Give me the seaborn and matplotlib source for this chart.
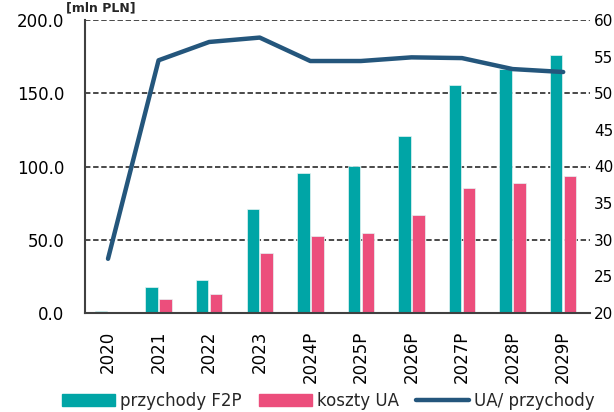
import numpy as np
import pandas as pd
import matplotlib
matplotlib.use('Agg')
import matplotlib.pyplot as plt
import seaborn as sns
from matplotlib.patches import Patch
from matplotlib.lines import Line2D

# Dane
lata = ['2020', '2021', '2022', '2023', '2024P', '2025P', '2026P', '2027P', '2028P', '2029P']
przychody_f2p = [1.5, 17.5, 22.5, 71.0, 95.5, 100.5, 121.0, 155.5, 166.5, 176.0]
koszty_ua = [0.3, 9.5, 13.0, 41.0, 52.5, 54.5, 67.0, 85.0, 88.5, 93.5]
ua_do_przychodow = [27.4, 54.5, 57.0, 57.6, 54.4, 54.4, 54.9, 54.8, 53.3, 52.9]
ticki_lewe = [0, 50, 100, 150, 200]
ticki_prawe = [20, 25, 30, 35, 40, 45, 50, 55, 60]

kolor_f2p = '#00A5A6'
kolor_ua = '#EC4E7C'
kolor_linii = '#24567C'

sns.set_theme(style='white')
plt.rcParams['font.family'] = ['DejaVu Sans']

df = pd.DataFrame({
    'rok': lata * 2,
    'wartosc': przychody_f2p + koszty_ua,
    'seria': ['przychody F2P'] * len(lata) + ['koszty UA'] * len(lata),
})

fig = plt.figure(figsize=(6.14, 4.12), dpi=100)
ax = fig.add_axes([85 / 614, 1 - 313 / 412, (590 - 85) / 614, (313 - 20) / 412])

sns.barplot(data=df, x='rok', y='wartosc', hue='seria', palette=[kolor_f2p, kolor_ua],
            saturation=1, width=0.55, gap=0.1, edgecolor='#E6F4F4', linewidth=0.5,
            legend=False, ax=ax)

ax.set_ylim(0, 200)
ax.set_xlim(-0.455, 9.53)
ax.set_yticks(ticki_lewe)
ax.set_yticklabels([f'{t:.1f}' for t in ticki_lewe])
ax.set_xlabel('')
ax.set_ylabel('')
for t in ticki_lewe[1:]:
    ax.axhline(t, color='#3a3a3a', lw=1.3, ls=(0, (3, 1.5)), zorder=0.5)
ax.tick_params(axis='y', length=0, pad=15, labelsize=12, labelcolor='black')
ax.tick_params(axis='x', length=0, pad=13, labelsize=12, labelrotation=90, labelcolor='black')
for s in ['top', 'right']:
    ax.spines[s].set_visible(False)
for s in ['left', 'bottom']:
    ax.spines[s].set_color('#404040')
    ax.spines[s].set_linewidth(1.5)

ax2 = ax.twinx()
sns.lineplot(x=np.arange(len(lata)), y=ua_do_przychodow, color=kolor_linii, lw=3.2,
             solid_capstyle='round', solid_joinstyle='round', ax=ax2)
ax2.set_ylim(20, 60)
ax2.set_yticks(ticki_prawe)
ax2.set_yticklabels([f'{t}' for t in ticki_prawe])
ax2.tick_params(axis='y', length=0, pad=3, labelsize=11, labelcolor='black')
for s in ax2.spines.values():
    s.set_visible(False)

fig.text(66 / 614, 1 - 1 / 412, '[mln PLN]', ha='left', va='top',
         fontsize=9, fontweight='bold')

uchwyty = [Patch(color=kolor_f2p), Patch(color=kolor_ua),
           Line2D([], [], color=kolor_linii, lw=3.2, solid_capstyle='round')]
fig.legend(uchwyty, ['przychody F2P', 'koszty UA', 'UA/ przychody'],
           loc='center left', bbox_to_anchor=(62 / 614, 1 - 401 / 412), ncol=3,
           frameon=False, fontsize=12, handlelength=3.2, handletextpad=0.3,
           columnspacing=1.0, borderpad=0, borderaxespad=0)

fig.savefig('out.png', dpi=100)
